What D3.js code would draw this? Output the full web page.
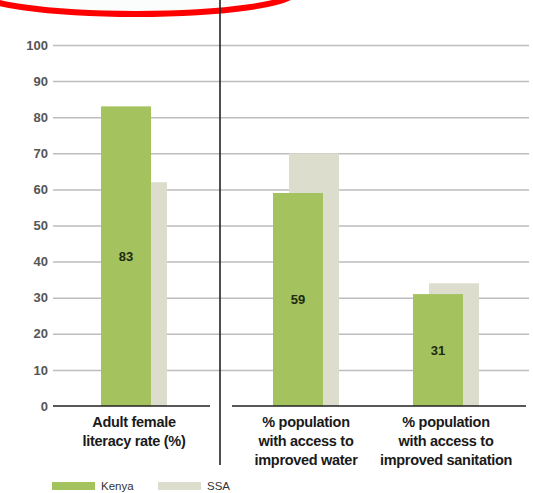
<!DOCTYPE html>
<html><head><meta charset="utf-8">
<script src="https://cdn.jsdelivr.net/npm/d3@7"></script>
<style>body{margin:0;background:#fff}svg{display:block}</style>
</head><body>
<svg id="c" width="533" height="493"></svg>
<script>
const leftCats = ["literacy"];
const rightCats = ["water", "sanitation"];
const catLabels = {
  literacy: ["Adult female", "literacy rate (%)"],
  water: ["% population", "with access to", "improved water"],
  sanitation: ["% population", "with access to", "improved sanitation"]
};
const kenya = {literacy: 83, water: 59, sanitation: 31};
const ssa = {literacy: 62, water: 70, sanitation: 34};
const yTicks = [0,10,20,30,40,50,60,70,80,90,100];
const seriesNames = ["Kenya", "SSA"];

const svg = d3.select("#c");
const font = "'Liberation Sans', Arial, sans-serif";
const green = "#a4c35f", gray = "#dcddcd";

const y = d3.scaleLinear().domain([0,100]).range([406,45]);
const xL = d3.scaleBand().domain(leftCats).range([56,212]);
const xR = d3.scaleBand().domain(rightCats).range([236,516]);
const cx = c => leftCats.includes(c) ? xL(c) + xL.bandwidth()/2 : xR(c) + xR.bandwidth()/2;
const barW = 50;

// red annotation ellipse
svg.append("ellipse").attr("cx",136).attr("cy",-9).attr("rx",160).attr("ry",23)
  .attr("fill","#fbfdfd").attr("stroke","#ff0000").attr("stroke-width",6);

// gridlines + tick labels via axis
const yAxis = d3.axisLeft(y).tickValues(yTicks).tickSize(-476).tickPadding(5);
const ga = svg.append("g").attr("transform","translate(53,0)").call(yAxis);
ga.select(".domain").remove();
ga.selectAll(".tick line").attr("stroke","#bdbdbd").attr("stroke-width",1.5)
  .filter(d => d===0).remove();
ga.selectAll(".tick text").attr("font-family",font).attr("font-weight","bold")
  .attr("font-size",13).attr("fill","#555");

const cats = leftCats.concat(rightCats);
// SSA bars (behind)
svg.selectAll(".ssa").data(cats).enter().append("rect")
  .attr("x", c => cx(c) - 17).attr("width", barW)
  .attr("y", c => y(ssa[c])).attr("height", c => y(0) - y(ssa[c]))
  .attr("fill", gray);
// Kenya bars
svg.selectAll(".ken").data(cats).enter().append("rect")
  .attr("x", c => cx(c) - 33).attr("width", barW)
  .attr("y", c => y(kenya[c])).attr("height", c => y(0) - y(kenya[c]))
  .attr("fill", green);
// value labels
svg.selectAll(".val").data(cats).enter().append("text")
  .attr("x", c => cx(c) - 8).attr("y", c => y(kenya[c]/2) + 4.5)
  .attr("text-anchor","middle").attr("font-family",font).attr("font-weight","bold")
  .attr("font-size",13).attr("fill","#1e2b10").text(c => kenya[c]);

// baselines
svg.append("line").attr("x1",53).attr("x2",210).attr("y1",y(0)).attr("y2",y(0))
  .attr("stroke","#222").attr("stroke-width",1.6);
svg.append("line").attr("x1",232).attr("x2",526).attr("y1",y(0)).attr("y2",y(0))
  .attr("stroke","#222").attr("stroke-width",1.6);
// divider
svg.append("line").attr("x1",220).attr("x2",220).attr("y1",0).attr("y2",465)
  .attr("stroke","#222").attr("stroke-width",1.6);

// category labels
cats.forEach(c => {
  const t = svg.append("text").attr("text-anchor","middle").attr("font-family",font)
    .attr("font-weight","bold").attr("font-size",14.5).attr("fill","#1a1a1a")
    .attr("letter-spacing","-0.3");
  catLabels[c].forEach((line,i) => {
    t.append("tspan").attr("x", cx(c)).attr("y", 427 + i*19).text(line);
  });
});

// legend
const lg = svg.append("g");
const legX = [52, 158];
seriesNames.forEach((s,i) => {
  lg.append("rect").attr("x",legX[i]).attr("y",482).attr("width",43).attr("height",8)
    .attr("fill", i===0 ? green : gray);
  lg.append("text").attr("x",legX[i]+49).attr("y",490).attr("font-family",font)
    .attr("font-size",11.5).attr("fill","#333").text(s);
});
</script>
</body></html>
